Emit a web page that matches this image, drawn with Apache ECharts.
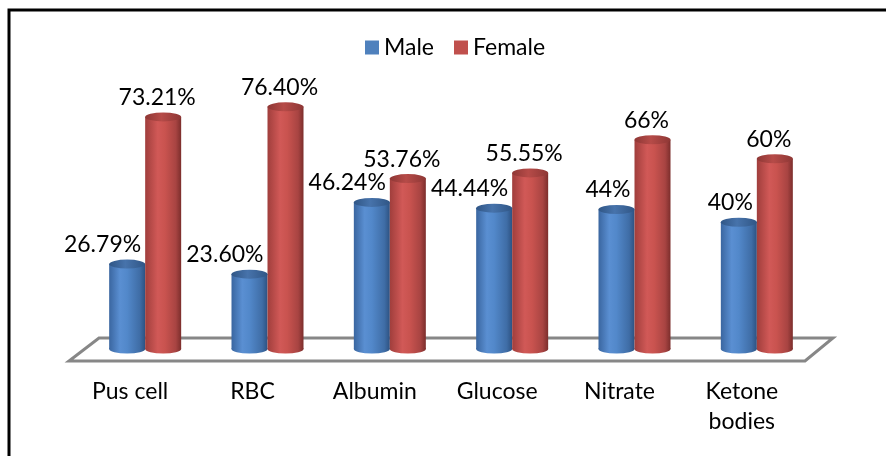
<!DOCTYPE html>
<html>
<head>
<meta charset="utf-8">
<script src="https://cdn.jsdelivr.net/npm/echarts@6/dist/echarts.min.js"></script>
<style>
html,body{margin:0;padding:0;background:#fff;}
#chart{width:886px;height:456px;}
</style>
</head>
<body>
<div id="chart"></div>
<script>
const categories = ['Pus cell', 'RBC', 'Albumin', 'Glucose', 'Nitrate', 'Ketone\nbodies'];
const maleValues = [26.79, 23.60, 46.24, 44.44, 44, 40];
const femaleValues = [73.21, 76.40, 53.76, 55.55, 66, 60];
const maleLabels = ['26.79%', '23.60%', '46.24%', '44.44%', '44%', '40%'];
const femaleLabels = ['73.21%', '76.40%', '53.76%', '55.55%', '66%', '60%'];
const seriesNames = ['Male', 'Female'];

const FONT = 'Lato, "Open Sans", sans-serif';
const FS = 23;
const BW = 36;

function hGrad(stops) {
  return new echarts.graphic.LinearGradient(0, 0, 1, 0, stops.map((c) => ({offset: c[0], color: c[1]})));
}
const blueBody = hGrad([[0, '#3a66a0'], [0.3, '#5a8fd2'], [0.5, '#5288ca'], [0.85, '#3f6da6'], [1, '#2d5282']]);
const redBody = hGrad([[0, '#a03e3c'], [0.35, '#d15957'], [0.55, '#c9534f'], [0.85, '#a84442'], [1, '#7c2e2c']]);
const blueTop = hGrad([[0, '#305686'], [0.45, '#4773ab'], [1, '#305686']]);
const redTop = hGrad([[0, '#8e3735'], [0.45, '#b64b48'], [1, '#8e3735']]);

const chart = echarts.init(document.getElementById('chart'), null, {renderer: 'canvas'});

const option = {
  animation: false,
  backgroundColor: '#fff',
  graphic: [{
    type: 'polyline',
    shape: {points: [[9, 460], [9, 10], [890, 10]]},
    style: {stroke: '#000', lineWidth: 3, fill: null},
    z: 100
  }],
  legend: {
    left: 360,
    top: 31,
    icon: 'rect',
    itemWidth: 14,
    itemHeight: 14,
    itemGap: 20,
    textStyle: {fontFamily: FONT, fontSize: FS, color: '#000'},
    data: [
      {name: seriesNames[0], itemStyle: {color: '#4F81BD'}},
      {name: seriesNames[1], itemStyle: {color: '#C0504D'}}
    ]
  },
  grid: {left: 84, right: 68, top: 32, bottom: 107},
  xAxis: {
    type: 'category',
    data: categories,
    axisLine: {show: false},
    axisTick: {show: false},
    axisLabel: {
      fontFamily: FONT, fontSize: FS, color: '#000',
      margin: 28, lineHeight: 30, padding: [0, 30, 0, 0], interval: 0
    }
  },
  yAxis: {
    type: 'value', min: 0, max: 100,
    show: false, splitLine: {show: false}
  },
  series: [
    {
      type: 'custom',
      name: 'floor',
      silent: true,
      z: 1,
      data: [[0, 0]],
      encode: {x: 0, y: 1},
      renderItem: function (params, api) {
        const cs = params.coordSys;
        const y0 = api.coord([0, 0])[1];
        const L = cs.x, R = cs.x + cs.width;
        return {
          type: 'polygon',
          shape: {points: [[L - 15, y0 + 12], [R - 13, y0 + 12], [R + 15, y0 - 11], [L + 15, y0 - 11]]},
          style: {fill: '#fff', stroke: '#878787', lineWidth: 3}
        };
      }
    },
    {
      type: 'pictorialBar', name: 'mBottom', silent: true, z: 2,
      symbol: 'circle', symbolSize: [BW, 9], symbolPosition: 'start',
      symbolOffset: ['-50%', '50%'],
      itemStyle: {color: blueBody},
      data: maleValues
    },
    {
      type: 'pictorialBar', name: 'fBottom', silent: true, z: 2,
      symbol: 'circle', symbolSize: [BW, 9], symbolPosition: 'start',
      symbolOffset: ['50%', '50%'],
      itemStyle: {color: redBody},
      data: femaleValues
    },
    {
      type: 'bar', name: seriesNames[0], z: 3,
      barWidth: BW, barGap: '0%',
      itemStyle: {color: blueBody},
      label: {
        show: true, position: 'top', distance: 8, align: 'right', offset: [14, 0],
        fontFamily: FONT, fontSize: FS, color: '#000',
        formatter: p => maleLabels[p.dataIndex]
      },
      data: maleValues
    },
    {
      type: 'bar', name: seriesNames[1], z: 3,
      barWidth: BW, barGap: '0%',
      itemStyle: {color: redBody},
      label: {
        show: true, position: 'top', distance: 8, offset: [-6, 0],
        fontFamily: FONT, fontSize: FS, color: '#000',
        formatter: p => femaleLabels[p.dataIndex]
      },
      data: femaleValues
    },
    {
      type: 'pictorialBar', name: 'mTop', silent: true, z: 4,
      symbol: 'circle', symbolSize: [BW, 9], symbolPosition: 'end',
      symbolOffset: ['-50%', '-50%'],
      itemStyle: {color: blueTop},
      data: maleValues
    },
    {
      type: 'pictorialBar', name: 'fTop', silent: true, z: 4,
      symbol: 'circle', symbolSize: [BW, 9], symbolPosition: 'end',
      symbolOffset: ['50%', '-50%'],
      itemStyle: {color: redTop},
      data: femaleValues
    }
  ]
};
chart.setOption(option);
</script>
</body>
</html>
